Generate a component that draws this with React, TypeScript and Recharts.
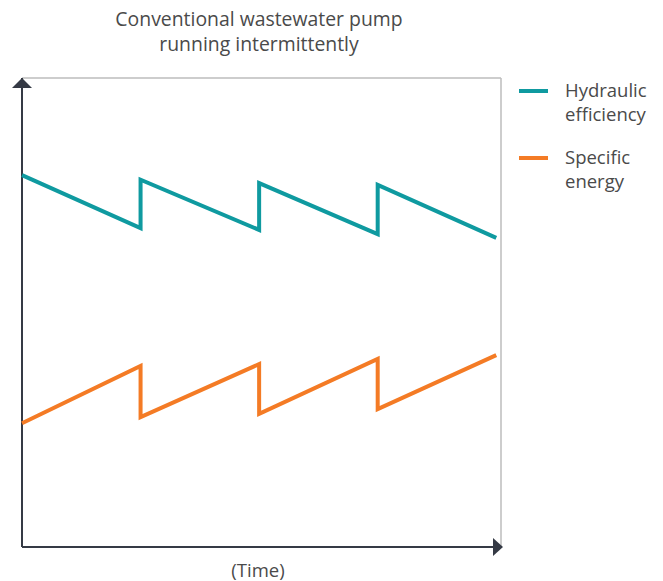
import React from 'react';
import { LineChart, Line, XAxis, YAxis, ReferenceLine, ReferenceDot } from 'recharts';

// time steps: each cycle restarts, so the jump points appear twice
const timeSteps = [0, 1, 1, 2, 2, 3, 3, 4];
const hydraulicEfficiency = [79.3, 68.0, 78.3, 67.6, 77.6, 66.7, 77.2, 65.9];
const specificEnergy = [26.4, 38.6, 27.7, 39.0, 28.4, 40.1, 29.4, 40.9];

const titleLines = ['Conventional wastewater pump', 'running intermittently'];
const xLabel = '(Time)';

const series = [
    { key: 'hydraulic', label: ['Hydraulic', 'efficiency'], color: '#0f9aa0' },
    { key: 'specific', label: ['Specific', 'energy'], color: '#f47b25' },
];

const X_MAX = 4.04;
const Y_MAX = 100;
const AXIS = '#353a45';
const TEXT = '#4a4a4a';
const FONT = '"Open Sans", Lato, sans-serif';

const chartData = timeSteps.map((t, i) => ({
    t,
    hydraulic: hydraulicEfficiency[i],
    specific: specificEnergy[i],
}));

const UpArrow = (props: any) => {
    const { cx, cy } = props;
    return <polygon points={`${cx - 10},${cy + 10} ${cx + 10},${cy + 10} ${cx},${cy}`} fill={AXIS} />;
};

const RightArrow = (props: any) => {
    const { cx, cy } = props;
    return <polygon points={`${cx - 8},${cy - 9} ${cx - 8},${cy + 9} ${cx + 2},${cy}`} fill={AXIS} />;
};

const App: React.FC = () => {
    return (
        <div style={{ position: 'absolute', left: 0, top: 0, width: 663, height: 581, background: '#fff', fontFamily: FONT, fontWeight: 400 }}>
            <div style={{ position: 'absolute', left: 59, width: 400, top: 6, textAlign: 'center', color: TEXT, fontSize: 19.4, lineHeight: '25px' }}>
                {titleLines.map((l) => <div key={l}>{l}</div>)}
            </div>

            <LineChart width={663} height={581} data={chartData} margin={{ top: 78, right: 162, bottom: 34, left: 22 }}>
                <XAxis dataKey="t" type="number" domain={[0, X_MAX]} hide />
                <YAxis type="number" domain={[0, Y_MAX]} hide />
                <ReferenceLine y={Y_MAX} stroke="#bdbdbd" strokeWidth={1.5} />
                <ReferenceLine x={X_MAX} stroke="#bdbdbd" strokeWidth={1.5} />
                <ReferenceLine x={0} stroke={AXIS} strokeWidth={2} />
                <ReferenceLine y={0} stroke={AXIS} strokeWidth={2} />
                {series.map((s) => (
                    <Line key={s.key} type="linear" dataKey={s.key} stroke={s.color} strokeWidth={4}
                        strokeLinejoin="miter" dot={false} activeDot={false} isAnimationActive={false} />
                ))}
                <ReferenceDot x={0} y={Y_MAX} r={0} shape={<UpArrow />} ifOverflow="visible" />
                <ReferenceDot x={X_MAX} y={0} r={0} shape={<RightArrow />} ifOverflow="visible" />
            </LineChart>

            <div style={{ position: 'absolute', left: 158, width: 200, top: 560, textAlign: 'center', color: TEXT, fontSize: 18.5, lineHeight: '20px' }}>
                {xLabel}
            </div>

            <div style={{ position: 'absolute', left: 519, top: 78 }}>
                {series.map((s) => (
                    <div key={s.key} style={{ display: 'flex', alignItems: 'flex-start', marginBottom: 19 }}>
                        <div style={{ width: 29, height: 4, background: s.color, marginTop: 11, marginRight: 17 }} />
                        <div style={{ color: TEXT, fontSize: 18.5, lineHeight: '24px' }}>
                            {s.label.map((l) => <div key={l}>{l}</div>)}
                        </div>
                    </div>
                ))}
            </div>
        </div>
    );
};

export default App;
